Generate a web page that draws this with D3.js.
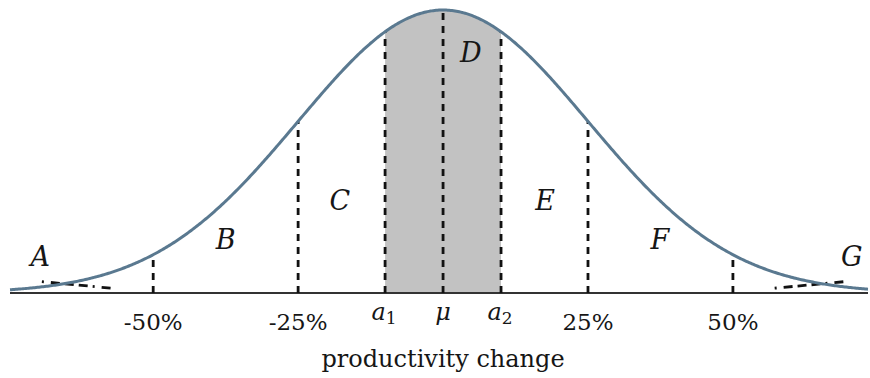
<!DOCTYPE html>
<html>
<head>
<meta charset="utf-8">
<script src="https://cdn.jsdelivr.net/npm/d3@7"></script>
<style>
  html, body { margin: 0; padding: 0; background: #fff; }
  svg { display: block; }
  text { font-family: "DejaVu Serif", "Liberation Serif", serif; fill: #161616; }
</style>
</head>
<body>
<svg id="chart" width="870" height="378"></svg>
<script>
// Distribution of productivity change (in %), normal with mean 0, sd 25
const mu = 0;
const sigma = 25;
const xDomain = [-74.7, 73.3];

// Marked positions along the axis
const tickValues = [-50, -25, -10, 0, 10, 25, 50];
const tickLabels = ["-50%", "-25%", "a1", "μ", "a2", "25%", "50%"];

// Central shaded interval [a1, a2]
const shadedInterval = [-10, 10];

// Region letters and the x (in %) / relative height where each sits
const regionNames = ["A", "B", "C", "D", "E", "F", "G"];
const regionX = [-69.5, -37.5, -17.8, 4.8, 17.6, 37.4, 70.5];
const regionY = [0.095, 0.155, 0.295, 0.815, 0.295, 0.155, 0.095];

// Pointer lines from the tail labels A and G down to the tails
const pointerA = [[-69.2, 0.04], [-57.2, 0.017]];
const pointerG = [[57.2, 0.017], [69.2, 0.04]];

const xAxisTitle = "productivity change";

const svg = d3.select("#chart");
const x = d3.scaleLinear().domain(xDomain).range([10, 868]);
const y = d3.scaleLinear().domain([0, 1]).range([293, 10]);

const density = v => Math.exp(-0.5 * Math.pow((v - mu) / sigma, 2));

const curvePts = d3.range(xDomain[0], xDomain[1] + 0.001, 0.25).map(v => [v, density(v)]);
const shadePts = d3.range(shadedInterval[0], shadedInterval[1] + 0.001, 0.1).map(v => [v, density(v)]);

// Shaded area under the curve between a1 and a2
svg.append("path")
  .datum(shadePts)
  .attr("fill", "#c2c2c2")
  .attr("d", d3.area().x(d => x(d[0])).y0(y(0)).y1(d => y(d[1])));

// Axis baseline
svg.append("line")
  .attr("x1", x(xDomain[0])).attr("x2", x(xDomain[1]))
  .attr("y1", y(0)).attr("y2", y(0))
  .attr("stroke", "#333").attr("stroke-width", 2);

// Dashed verticals from the axis up to the curve
svg.append("g").selectAll("line")
  .data(tickValues)
  .join("line")
  .attr("x1", d => x(d)).attr("x2", d => x(d))
  .attr("y1", y(0)).attr("y2", d => y(density(d)))
  .attr("stroke", "#111").attr("stroke-width", 2.8)
  .attr("stroke-dasharray", "7,6");

// Tail pointers
[pointerA, pointerG].forEach(p => {
  svg.append("line")
    .attr("x1", x(p[0][0])).attr("y1", y(p[0][1]))
    .attr("x2", x(p[1][0])).attr("y2", y(p[1][1]))
    .attr("stroke", "#111").attr("stroke-width", 2.8)
    .attr("stroke-dasharray", "2,7,9,5,9,5,9,5");
});

// The density curve
svg.append("path")
  .datum(curvePts)
  .attr("fill", "none")
  .attr("stroke", "#5a7990")
  .attr("stroke-width", 3)
  .attr("d", d3.line().x(d => x(d[0])).y(d => y(d[1])));

// Tick labels
const tg = svg.append("g");
tickValues.forEach((v, i) => {
  const lab = tickLabels[i];
  if (lab === "a1" || lab === "a2") {
    const t = tg.append("text")
      .attr("x", x(v) - 1).attr("y", 320)
      .attr("text-anchor", "middle")
      .attr("font-size", 24);
    t.append("tspan").attr("font-style", "italic").text("a");
    t.append("tspan").attr("font-size", 17).attr("dy", 4).text(lab[1]);
  } else if (lab === "μ") {
    tg.append("text")
      .attr("x", x(v)).attr("y", 320)
      .attr("text-anchor", "middle")
      .attr("font-size", 24).attr("font-style", "italic")
      .text(lab);
  } else {
    tg.append("text")
      .attr("x", x(v)).attr("y", 330)
      .attr("text-anchor", "middle")
      .attr("font-size", 23)
      .text(lab);
  }
});

// Region letters
svg.append("g").selectAll("text")
  .data(regionNames)
  .join("text")
  .attr("x", (d, i) => x(regionX[i]))
  .attr("y", (d, i) => y(regionY[i]))
  .attr("text-anchor", "middle")
  .attr("font-size", 27)
  .attr("font-style", "italic")
  .text(d => d);

// Axis title
svg.append("text")
  .attr("x", x(0)).attr("y", 367)
  .attr("text-anchor", "middle")
  .attr("font-size", 24)
  .text(xAxisTitle);
</script>
</body>
</html>
